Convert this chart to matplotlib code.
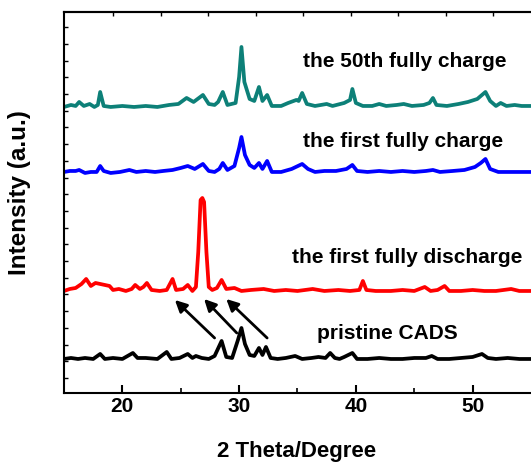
import numpy as np
import matplotlib
matplotlib.use('Agg')
import matplotlib.pyplot as plt

plt.rcParams['font.family'] = ['Liberation Sans', 'DejaVu Sans']
plt.rcParams['font.weight'] = 'bold'

# traced XRD patterns: 2theta (deg) and intensity above each baseline (a.u.)
x_50th = [15.0, 15.6, 16.0, 16.3, 16.7, 17.2, 17.6, 17.9, 18.1, 18.4, 19.0, 20.0, 21.0, 22.0, 23.0,
          24.0, 24.8, 25.5, 26.1, 26.9, 27.4, 27.9, 28.2, 28.6, 29.0, 29.7, 30.0, 30.2, 30.45, 30.9,
          31.3, 31.7, 32.0, 32.4, 32.8, 33.6, 34.2, 34.9, 35.1, 35.4, 35.8, 36.5, 37.0, 37.5, 38.0,
          39.0, 39.5, 39.7, 40.0, 40.6, 41.4, 42.0, 42.6, 43.5, 44.1, 44.8, 45.8, 46.3, 46.6, 46.9,
          47.8, 48.8, 49.6, 50.4, 51.1, 51.5, 52.0, 52.4, 52.9, 53.6, 54.2, 55.0]
y_50th = [0, 2, 1, 5, 1, 3, 0, 2, 15, 1, 0, 1, 0, 1, 0,
          2, 3, 9, 5, 12, 3, 2, 5, 15, 2, 4, 30, 60, 25, 8,
          6, 20, 6, 12, 1, 1, 4, 7, 6, 14, 3, 1, 2, 3, 1,
          4, 7, 18, 4, 1, 1, 3, 1, 2, 3, 1, 2, 4, 9, 2,
          1, 3, 5, 8, 15, 6, 1, 4, 1, 2, 1, 1]

x_1st_charge = [15.0, 15.5, 16.0, 16.3, 16.8, 17.3, 17.8, 18.1, 18.4, 19.0, 19.8, 20.6, 21.2, 22.0,
                22.8, 23.5, 24.3, 25.0, 25.6, 26.2, 26.9, 27.4, 27.9, 28.3, 28.6, 29.0, 29.6, 30.0,
                30.2, 30.5, 30.9, 31.3, 31.7, 32.0, 32.4, 32.8, 33.6, 34.5, 35.4, 35.9, 36.5, 37.3,
                38.3, 39.2, 39.7, 40.1, 41.0, 42.0, 43.0, 44.0, 45.0, 46.0, 46.6, 47.2, 48.3, 49.3,
                50.2, 50.7, 51.1, 51.5, 52.2, 53.0, 54.0, 55.0]
y_1st_charge = [1, 2, 2, 3, 0, 1, 1, 7, 2, 0, 1, 3, 1, 2,
                1, 2, 3, 5, 7, 4, 9, 2, 1, 4, 10, 3, 7, 25,
                36, 18, 8, 5, 10, 4, 12, 1, 1, 4, 9, 4, 1, 2,
                2, 4, 8, 2, 1, 2, 1, 2, 1, 2, 3, 1, 2, 3,
                6, 10, 14, 4, 1, 1, 1, 1]

x_1st_discharge = [15.0, 15.5, 16.0, 16.5, 16.9, 17.3, 17.7, 18.1, 18.5, 18.9, 19.2, 19.7, 20.3, 20.8,
                   21.1, 21.5, 21.8, 22.1, 22.5, 23.2, 23.8, 24.3, 24.6, 25.2, 25.6, 26.0, 26.3, 26.5,
                   26.7, 26.85, 27.0, 27.2, 27.4, 27.7, 28.1, 28.5, 28.9, 29.6, 30.2, 31.0, 32.1, 33.0,
                   34.0, 35.0, 36.3, 37.3, 38.5, 39.5, 40.3, 40.6, 40.9, 41.7, 43.0, 44.0, 45.0, 45.9,
                   46.4, 47.0, 47.6, 48.0, 49.0, 50.0, 51.0, 52.0, 53.3, 54.0, 55.0]
y_1st_discharge = [1, 3, 4, 8, 13, 6, 9, 8, 7, 6, 2, 3, 1, 3,
                   7, 3, 5, 9, 2, 1, 2, 13, 2, 3, 7, 1, 5, 40,
                   92, 94, 90, 40, 5, 2, 4, 12, 3, 4, 1, 2, 3, 1,
                   2, 1, 3, 1, 2, 1, 2, 11, 2, 1, 1, 2, 1, 5,
                   1, 2, 6, 1, 1, 2, 1, 1, 3, 1, 1]

x_pristine = [15.0, 15.6, 16.2, 16.8, 17.5, 18.1, 18.5, 19.2, 20.0, 20.9, 21.3, 22.0, 23.0, 23.8,
              24.2, 24.9, 25.6, 26.0, 26.3, 26.8, 27.4, 27.9, 28.5, 28.9, 29.4, 29.9, 30.2, 30.5,
              30.9, 31.3, 31.7, 32.0, 32.3, 32.7, 33.3, 34.0, 34.8, 35.4, 36.2, 36.8, 37.4, 37.8,
              38.2, 38.6, 39.0, 39.7, 40.1, 41.0, 42.0, 43.0, 44.0, 45.0, 46.0, 46.5, 47.0, 48.0,
              49.0, 50.0, 50.8, 51.3, 52.0, 53.0, 54.0, 55.0]
y_pristine = [1, 2, 1, 2, 1, 6, 1, 2, 1, 7, 2, 2, 1, 8,
              1, 2, 6, 2, 4, 2, 1, 4, 19, 3, 2, 20, 32, 16,
              5, 4, 12, 5, 13, 2, 1, 2, 4, 1, 2, 3, 2, 7,
              2, 1, 3, 7, 1, 1, 2, 1, 1, 2, 2, 4, 1, 1,
              2, 3, 6, 2, 1, 2, 1, 1]

offsets = [286, 220, 101, 33]
colors = ['#0d8078', '#0000ff', '#ff0000', '#000000']
labels = ['the 50th fully charge', 'the first fully charge',
          'the first fully discharge', 'pristine CADS']
label_pos = [(35.5, 326), (35.5, 246), (34.5, 130), (36.7, 54)]

# arrows: (tail, head) from pristine peaks to discharge peaks
arrows = [((27.9, 55), (24.5, 93)),
          ((29.8, 60), (27.0, 94)),
          ((32.4, 55), (28.9, 94))]

fig = plt.figure(figsize=(5.31, 4.62), dpi=100)
ax = fig.add_axes([0.1205, 0.1494, 0.8795, 0.8247])

series = [(x_50th, y_50th), (x_1st_charge, y_1st_charge),
          (x_1st_discharge, y_1st_discharge), (x_pristine, y_pristine)]
for (xs, ys), off, c in zip(series, offsets, colors):
    ax.plot(xs, np.array(ys) + off, color=c, lw=2.7, solid_joinstyle='round')

for lab, (tx, ty) in zip(labels, label_pos):
    ax.text(tx, ty, lab, fontsize=15, fontweight='bold', ha='left', va='baseline')

for tail, head in arrows:
    ax.annotate('', xy=head, xytext=tail,
                arrowprops=dict(arrowstyle='-|>,head_length=0.7,head_width=0.35',
                                color='black', lw=2.0, shrinkA=0, shrinkB=0))

ax.set_xlim(15, 55)
ax.set_ylim(0, 381)
ax.set_xticks([20, 30, 40, 50])
ax.set_xticks([25, 35, 45], minor=True)
ax.set_yticks([])
ax.set_yticks(np.arange(15, 381, 16.7), minor=True)
ax.tick_params(axis='x', which='major', direction='in', length=6, width=1.5,
               labelsize=15, pad=3)
ax.tick_params(axis='x', which='minor', direction='in', length=3.5, width=1.2)
ax.tick_params(axis='y', which='minor', direction='in', length=3, width=1.0)
for lab in ax.get_xticklabels():
    lab.set_fontweight('bold')

top = ax.secondary_xaxis('top')
top.set_ticks(np.arange(19.2, 55, 4.07))
top.set_xticklabels([])
top.tick_params(direction='in', length=3, width=1.0)
top.spines['top'].set_linewidth(1.5)

for s in ['left', 'bottom', 'top']:
    ax.spines[s].set_linewidth(1.5)
ax.spines['right'].set_visible(False)

ax.set_xlabel('2 Theta/Degree', fontsize=16, fontweight='bold')
ax.xaxis.set_label_coords(0.499, -0.126)
ax.xaxis.label.set_va('top')
ax.set_ylabel('Intensity (a.u.)', fontsize=17.5, fontweight='bold')
ax.yaxis.set_label_coords(-0.07, 0.525)

fig.savefig('out.png', dpi=100)
